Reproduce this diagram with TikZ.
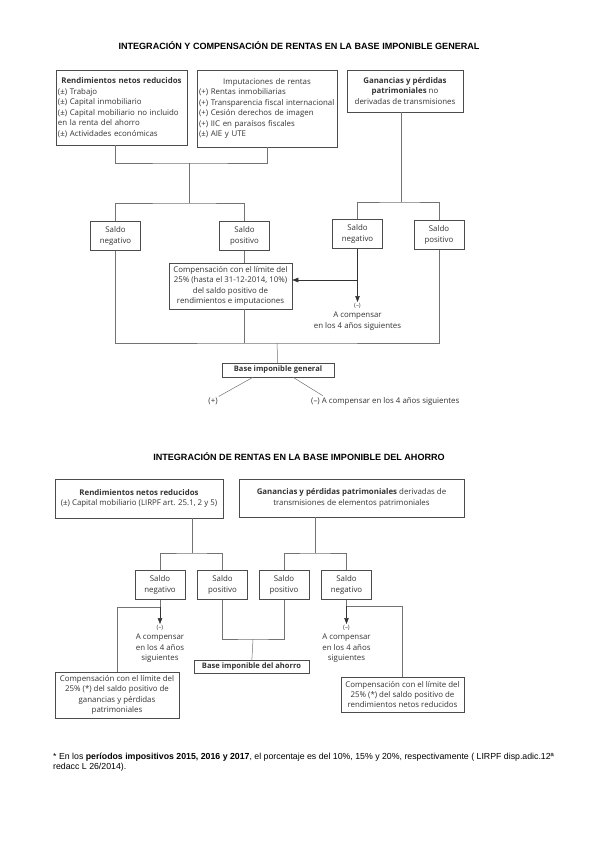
\documentclass[tikz,border=0pt]{standalone}
\usepackage{fontspec}
\setmainfont{Open Sans}
\newfontfamily\arialfont{Liberation Sans}
\usepackage{tikz}
\usetikzlibrary{arrows.meta,shadows}

\begin{document}
\begin{tikzpicture}[x=1bp,y=-1bp,
title/.style={font=\arialfont\bfseries\fontsize{9.1}{11}\selectfont},
box/.style={rectangle, draw=black!70, line width=0.5bp, fill=white, inner xsep=2bp, inner ysep=1bp, align=center,
  drop shadow={shadow xshift=0.8bp, shadow yshift=-0.8bp, fill=black, opacity=0.35},
  font=\fontsize{7.9}{10.5}\selectfont, text=black!80},
saldo/.style={box, minimum width=50bp, minimum height=29bp},
txt/.style={font=\fontsize{7.9}{10.5}\selectfont, text=black!80, align=center, inner sep=1bp},
line/.style={draw=black!55, line width=0.5bp},
arrow/.style={line, -{Triangle[length=6bp,width=4.5bp]}, black!80}
]
\useasboundingbox[fill=white] (0,0) rectangle (599,848);

% Titles
\node[title] (title1) at (299,46) {INTEGRACIÓN Y COMPENSACIÓN DE RENTAS EN LA BASE IMPONIBLE GENERAL};
\node[title] (title2) at (299,457) {INTEGRACIÓN DE RENTAS EN LA BASE IMPONIBLE DEL AHORRO};

% Base imponible general: top row
\node[box, align=left, text width=127bp, minimum height=75bp] (rend1) at (121.5,107.5)
  {\hfill\textbf{Rendimientos netos reducidos}\hfill\null\\(±) Trabajo\\(±) Capital inmobiliario\\(±) Capital mobiliario no incluido\\en la renta del ahorro\\(±) Actividades económicas};
\node[box, align=left, text width=136bp, minimum height=77bp] (imp1) at (267,108.5)
  {\hfill Imputaciones de rentas\hfill\null\\(+) Rentas inmobiliarias\\(+) Transparencia fiscal internacional\\(+) Cesión derechos de imagen\\(+) IIC en paraísos fiscales\\(±) AIE y UTE};
\node[box, minimum width=116bp, minimum height=42bp] (gan1) at (405,91)
  {\textbf{Ganancias y pérdidas}\\\textbf{patrimoniales} no\\derivadas de transmisiones};

% Saldos
\node[saldo] (sneg1) at (115.5,236) {Saldo\\negativo};
\node[saldo] (spos1) at (244.5,236) {Saldo\\positivo};
\node[saldo] (sneg2) at (357.5,234) {Saldo\\negativo};
\node[saldo] (spos2) at (439,235) {Saldo\\positivo};

% Compensation
\node[box, minimum width=123bp, minimum height=46bp] (comp1) at (230.5,286)
  {Compensación con el límite del\\25\% (hasta el 31-12-2014, 10\%)\\del saldo positivo de\\rendimientos e imputaciones};
\node[txt, anchor=north] (rest2) at (357.5,302)
  {{\fontsize{6}{7}\selectfont(–)}\\A compensar\\en los 4 años siguientes};

% Base
\node[box, minimum width=112bp, minimum height=14bp, font=\bfseries\fontsize{7.6}{9}\selectfont] (base1) at (278,370) {Base imponible general};
\node[txt] (plus1) at (213,401) {(+)};
\node[txt, anchor=west] (minus1) at (310,401) {(–) A compensar en los 4 años siguientes};

% Arrows and lines
\coordinate (jA) at (189,163);
\coordinate (jB) at (189,203);
\coordinate (jD) at (401,202);
\coordinate (jC) at (277,343);
\coordinate (tip1) at ([yshift=6bp]comp1.east);
\draw[line] (rend1.south -| sneg1) |- (jA) -| (imp1);
\draw[line] (jA) -- (jB);
\draw[line] (sneg1) |- (jB) -| (spos1);
\draw[line] (gan1.south -| jD) -- (jD);
\draw[line] (sneg2) |- (jD) -| (spos2);
\draw[line] (spos1) -- (comp1.north -| spos1);
\draw[arrow] (sneg2) -- (rest2);
\draw[arrow] (tip1 -| sneg2) -- (tip1);
\draw[line] (sneg1) |- (jC) -| (spos2);
\draw[line] (comp1.south -| spos1) -- (jC -| spos1);
\draw[line] (jC) -- (base1);
\draw[line] ([xshift=-25bp]base1.south) -- (plus1.north east);
\draw[line] ([xshift=15bp]base1.south) -- ([xshift=13bp]minus1.north west);

% Base imponible del ahorro: top row
\node[box, minimum width=168bp, minimum height=39bp] (rend2) at (139,498.5)
  {\textbf{Rendimientos netos reducidos}\\(±) Capital mobiliario (LIRPF art. 25.1, 2 y 5)};
\node[box, minimum width=225bp, minimum height=38bp] (gan2) at (351.5,498)
  {\textbf{Ganancias y pérdidas patrimoniales} derivadas de\\transmisiones de elementos patrimoniales};

% Saldos
\node[saldo] (sneg3) at (160,585) {Saldo\\negativo};
\node[saldo] (spos3) at (222.5,585) {Saldo\\positivo};
\node[saldo] (spos4) at (284,585) {Saldo\\positivo};
\node[saldo] (sneg4) at (346.5,585) {Saldo\\negativo};

% Rest and compensation
\node[txt, anchor=north] (rest3) at (160,624)
  {{\fontsize{6}{7}\selectfont(–)}\\A compensar\\en los 4 años\\siguientes};
\node[txt, anchor=north] (rest4) at (346.5,624)
  {{\fontsize{6}{7}\selectfont(–)}\\A compensar\\en los 4 años\\siguientes};
\node[box, minimum width=124bp, minimum height=46bp] (comp3) at (117,695)
  {Compensación con el límite del\\25\% (*) del saldo positivo de\\ganancias y pérdidas\\patrimoniales};
\node[box, minimum width=123bp, minimum height=35bp] (comp4) at (402.5,694.5)
  {Compensación con el límite del\\25\% (*) del saldo positivo de\\rendimientos netos reducidos};
\node[box, minimum width=115bp, minimum height=13bp, font=\bfseries\fontsize{7.6}{9}\selectfont] (base2) at (251.5,667) {Base imponible del ahorro};

% Arrows and lines
\coordinate (jL) at (192,553);
\coordinate (jR) at (315,553);
\coordinate (jM) at (253,639);
\coordinate (kL) at (160,607);
\coordinate (kR) at (346.5,606);
\draw[line] (rend2.south -| jL) -- (jL);
\draw[line] (sneg3) |- (jL) -| (spos3);
\draw[line] (gan2.south -| jR) -- (jR);
\draw[line] (spos4) |- (jR) -| (sneg4);
\draw[line] (sneg3) -- (kL);
\draw[arrow] (kL) -- (rest3);
\draw[line] (kL) -| (comp3);
\draw[line] (sneg4) -- (kR);
\draw[arrow] (kR) -- (rest4);
\draw[line] (kR) -| (comp4);
\draw[line] (spos3) |- (jM) -| (spos4);
\draw[line] (jM) -- (base2);

% Footnote
\node[anchor=north west, align=left, inner sep=0pt, font=\arialfont\fontsize{8.8}{10}\selectfont] (note) at (53,753)
  {* En los \textbf{períodos impositivos 2015, 2016 y 2017}, el porcentaje es del 10\%, 15\% y 20\%, respectivamente ( LIRPF disp.adic.12ª\\redacc L 26/2014).};

\end{tikzpicture}
\end{document}
